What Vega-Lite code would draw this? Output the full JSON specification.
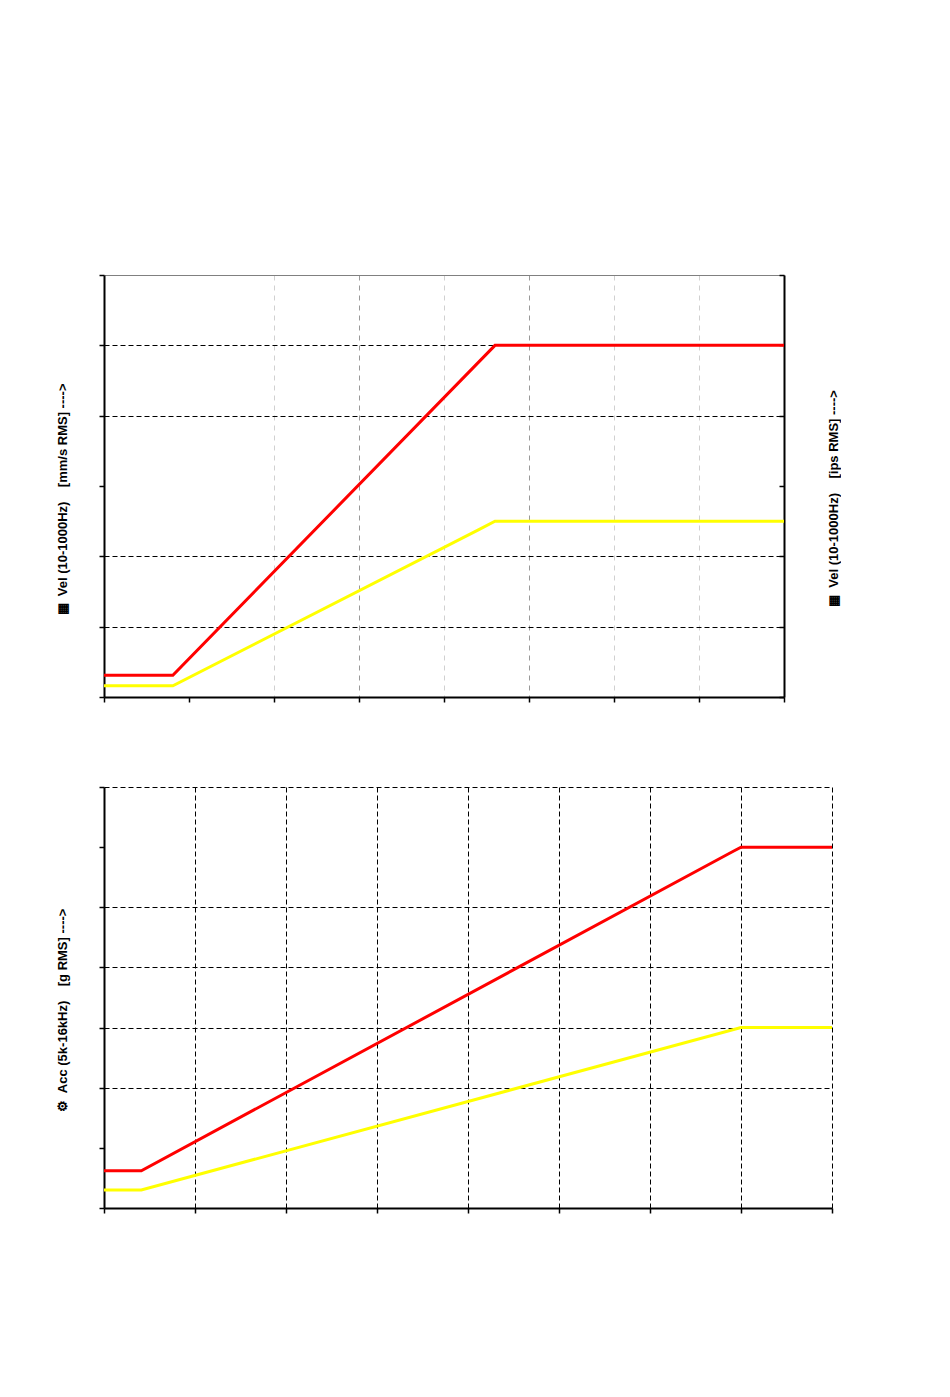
{
  "$schema": "https://vega.github.io/schema/vega-lite/v6.json",
  "background": "white",
  "padding": {"left": 56, "top": 274, "right": 0, "bottom": 0},
  "spacing": 83,
  "datasets": {
    "vel": [
      {"t": 0, "v": 0.31, "series": "alarm"},
      {"t": 0.81, "v": 0.31, "series": "alarm"},
      {"t": 4.35, "v": 4.69, "series": "alarm"},
      {"t": 4.6, "v": 5.0, "series": "alarm"},
      {"t": 8, "v": 5.0, "series": "alarm"},
      {"t": 0, "v": 0.16, "series": "warning"},
      {"t": 0.81, "v": 0.16, "series": "warning"},
      {"t": 4.41, "v": 2.38, "series": "warning"},
      {"t": 4.6, "v": 2.5, "series": "warning"},
      {"t": 8, "v": 2.5, "series": "warning"}
    ],
    "acc": [
      {"t": 0, "v": 0.62, "series": "alarm"},
      {"t": 0.41, "v": 0.62, "series": "alarm"},
      {"t": 6.9, "v": 5.92, "series": "alarm"},
      {"t": 7.0, "v": 6.0, "series": "alarm"},
      {"t": 8, "v": 6.0, "series": "alarm"},
      {"t": 0, "v": 0.3, "series": "warning"},
      {"t": 0.41, "v": 0.3, "series": "warning"},
      {"t": 7.0, "v": 3.0, "series": "warning"},
      {"t": 8, "v": 3.0, "series": "warning"}
    ]
  },
  "vconcat": [
    {
      "width": 680,
      "height": 422,
      "data": {"name": "vel"},
      "layer": [
        {
          "mark": {"type": "line", "strokeWidth": 3},
          "encoding": {
            "x": {
              "field": "t",
              "type": "quantitative",
              "scale": {"domain": [0, 8], "nice": false},
              "axis": {
                "values": [0, 1, 2, 3, 4, 5, 6, 7, 8],
                "labels": false,
                "title": null,
                "domainColor": "black",
                "domainWidth": 2,
                "tickColor": "black",
                "tickWidth": 1.5,
                "tickSize": 5,
                "grid": true,
                "gridDash": [5, 5],
                "gridColor": {"condition": {"test": "datum.value === 3 || datum.value === 5", "value": "#999999"}, "value": "#d0d0d0"},
                "gridOpacity": {"condition": {"test": "datum.value <= 1 || datum.value === 8", "value": 0}, "value": 1}
              }
            },
            "y": {
              "field": "v",
              "type": "quantitative",
              "scale": {"domain": [0, 6], "nice": false},
              "axis": {
                "orient": "left",
                "values": [0, 1, 2, 3, 4, 5, 6],
                "labels": false,
                "title": "▦\u00a0\u00a0Vel (10-1000Hz)\u00a0\u00a0\u00a0\u00a0[mm/s RMS] ---->",
                "titleFont": "Liberation Sans",
                "titleFontSize": 13,
                "titleFontWeight": "bold",
                "titleColor": "black",
                "titlePadding": 29,
                "titleAngle": -90,
                "titleY": 224,
                "domainColor": "black",
                "domainWidth": 2,
                "tickColor": "black",
                "tickWidth": 1.5,
                "tickSize": 5,
                "grid": true,
                "gridColor": {"condition": {"test": "datum.value === 6", "value": "#808080"}, "value": "black"},
                "gridDash": {"condition": {"test": "datum.value === 6", "value": []}, "value": [5, 3]},
                "gridOpacity": {"condition": {"test": "datum.value === 3 || datum.value === 0", "value": 0}, "value": 1}
              }
            },
            "color": {
              "field": "series",
              "type": "nominal",
              "scale": {"domain": ["alarm", "warning"], "range": ["#ff0000", "#ffff00"]},
              "legend": null
            }
          }
        },
        {
          "mark": {"type": "line", "strokeOpacity": 0},
          "encoding": {
            "x": {"field": "t", "type": "quantitative"},
            "y": {
              "field": "v",
              "type": "quantitative",
              "scale": {"domain": [0, 6], "nice": false},
              "axis": {
                "orient": "right",
                "values": [0, 1, 2, 3, 4, 5, 6],
                "labels": false,
                "title": "▦\u00a0\u00a0Vel (10-1000Hz)\u00a0\u00a0\u00a0\u00a0[ips RMS] ---->",
                "titleFont": "Liberation Sans",
                "titleFontSize": 13,
                "titleFontWeight": "bold",
                "titleColor": "black",
                "titlePadding": 56,
                "titleAngle": -90,
                "titleY": 223,
                "domainColor": "black",
                "domainWidth": 2,
                "tickColor": "black",
                "tickWidth": 1.5,
                "tickSize": -5,
                "grid": false
              }
            }
          }
        }
      ],
      "resolve": {"scale": {"y": "independent"}}
    },
    {
      "width": 728,
      "height": 421,
      "data": {"name": "acc"},
      "mark": {"type": "line", "strokeWidth": 3},
      "encoding": {
        "x": {
          "field": "t",
          "type": "quantitative",
          "scale": {"domain": [0, 8], "nice": false},
          "axis": {
            "values": [0, 1, 2, 3, 4, 5, 6, 7, 8],
            "labels": false,
            "title": null,
            "domainColor": "black",
            "domainWidth": 2,
            "tickColor": "black",
            "tickWidth": 1.5,
            "tickSize": 5,
            "grid": true,
            "gridColor": "black",
            "gridDash": [5, 3],
            "gridOpacity": {"condition": {"test": "datum.value === 0", "value": 0}, "value": 1}
          }
        },
        "y": {
          "field": "v",
          "type": "quantitative",
          "scale": {"domain": [0, 7], "nice": false},
          "axis": {
            "values": [0, 1, 2, 3, 4, 5, 6, 7],
            "labels": false,
            "title": "⚙\u00a0\u00a0Acc (5k-16kHz)\u00a0\u00a0\u00a0\u00a0[g RMS] ---->",
            "titleFont": "Liberation Sans",
            "titleFontSize": 13,
            "titleFontWeight": "bold",
            "titleColor": "black",
            "titlePadding": 29,
            "titleAngle": -90,
            "titleY": 223,
            "domainColor": "black",
            "domainWidth": 2,
            "tickColor": "black",
            "tickWidth": 1.5,
            "tickSize": 5,
            "grid": true,
            "gridColor": "black",
            "gridDash": [5, 3],
            "gridOpacity": {"condition": {"test": "datum.value === 0 || datum.value === 1 || datum.value === 6", "value": 0}, "value": 1}
          }
        },
        "color": {
          "field": "series",
          "type": "nominal",
          "scale": {"domain": ["alarm", "warning"], "range": ["#ff0000", "#ffff99"]},
          "legend": null
        }
      }
    }
  ],
  "config": {
    "view": {"stroke": null},
    "font": "Liberation Sans"
  }
}
